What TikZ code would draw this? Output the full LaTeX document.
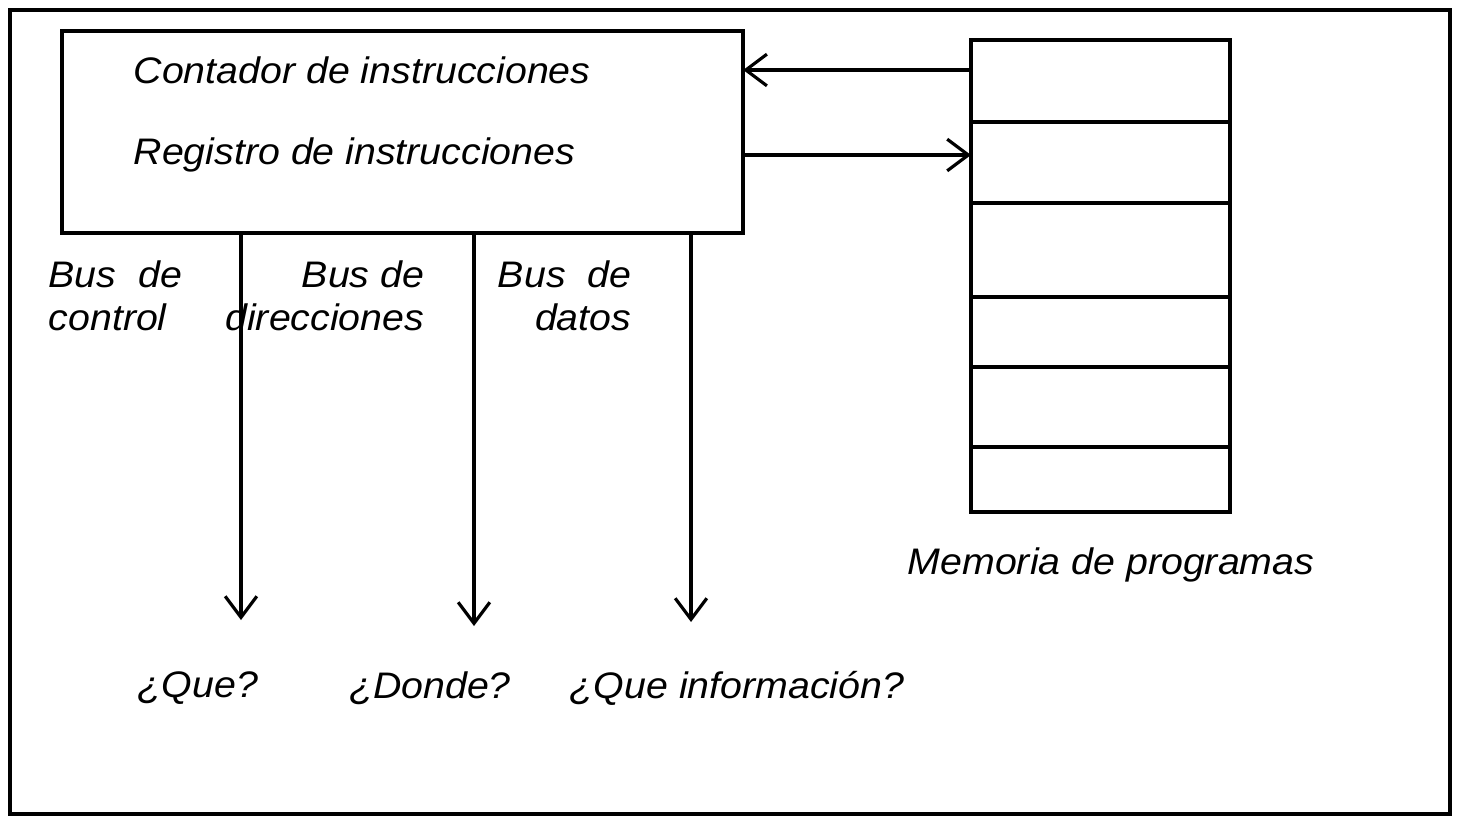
\documentclass[tikz,border=0pt]{standalone}
\usepackage{fontspec}
\setmainfont{Liberation Sans}[FakeStretch=1.065]
\usepackage{tikz}
\usetikzlibrary{arrows.meta}
\tikzstyle{bus} = [line width=0.9pt,-{Straight Barb[length=6pt,width=9pt,line width=0.9pt]}]
\tikzstyle{box} = [draw,line width=1.1pt,inner sep=0pt,outer sep=0pt]
\tikzstyle{lbl} = [font=\fontsize{10.5}{12.3}\selectfont\itshape,inner sep=0pt]

\begin{document}
\begin{tikzpicture}[x=0.01cm,y=-0.01cm]
      \useasboundingbox (0,0) rectangle (1462,818);
      \draw [line width=1.4pt] (10,10) rectangle (1450,814);
      \node (cpu) [box,minimum width=6.81cm,minimum height=2.02cm] at (402.5,132) {};
      \node (mem) [box,minimum width=2.59cm,minimum height=4.72cm] at (1100.5,276) {};
      \foreach \y in {122,203,297,367,447}
        \draw [line width=1pt] (mem.west |- 0,\y) -- (mem.east |- 0,\y);
      \node (pc) [lbl,anchor=west] at (133,70) {Contador de instrucciones};
      \node (ir) [lbl,anchor=west] at (133,155) {Registro de instrucciones};
      \draw [bus] (mem.west |- pc) -- (cpu.east |- pc);
      \draw [bus] (cpu.east |- ir) -- (mem.west |- ir);
      \node (bc) [lbl,anchor=west,align=left] at (48,296) {Bus~~de\\control};
      \node (bd) [lbl,anchor=east,align=right] at (425,296) {Bus de\\direcciones};
      \node (bt) [lbl,anchor=east,align=right] at (632,296) {Bus~~de\\datos};
      \coordinate (c1) at (241,620);
      \coordinate (c2) at (474,626);
      \coordinate (c3) at (691,622);
      \draw [bus] (cpu.south -| c1) -- (c1);
      \draw [bus] (cpu.south -| c2) -- (c2);
      \draw [bus] (cpu.south -| c3) -- (c3);
      \node (q1) [lbl] at (198,688) {¿Que?};
      \node (q2) [lbl] at (430,688) {¿Donde?};
      \node (q3) [lbl] at (737,688) {¿Que información?};
      \node (ml) [lbl] at (1111,565) {Memoria de programas};
    \end{tikzpicture}
\end{document}
